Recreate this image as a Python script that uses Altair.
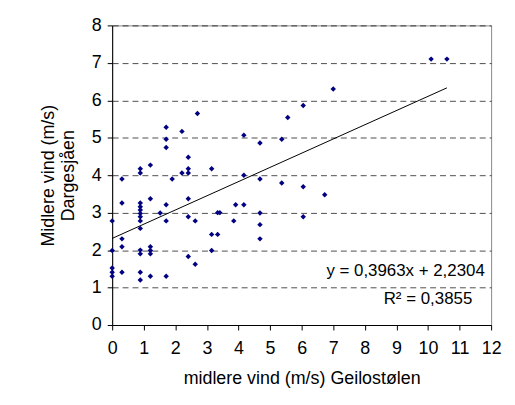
import altair as alt
import pandas as pd

xs = [0,0,0,0,0, 0.31,0.31,0.31,0.31,0.31,
      0.89,0.89,0.89,0.89,0.89,0.89,0.89,0.89,0.89,0.89,0.89,0.89,0.89,
      1.21,1.21,1.21,1.21,1.21,1.21,1.52,
      1.71,1.71,1.71,1.71,1.71,1.71,1.90,2.21,2.21,
      2.41,2.41,2.41,2.41,2.41,2.41,2.63,2.63,2.70,
      3.15,3.15,3.15,3.34,3.34,3.41,3.85,3.91,4.17,4.17,4.17,
      4.68,4.68,4.68,4.68,4.68,5.37,5.37,5.56,6.05,6.05,6.05,6.73,7.0,10.1,10.6]
ys = [2.78,1.99,1.52,1.41,1.30, 3.90,3.26,2.30,2.09,1.41,
      4.17,4.06,3.26,3.16,3.07,2.98,2.89,2.78,2.58,2.0,1.90,1.41,1.20,
      4.27,3.37,2.09,1.99,1.90,1.30,2.99,
      5.28,4.96,4.74,3.21,2.78,1.30,3.90,5.17,4.06,
      4.48,4.17,4.06,3.37,2.89,1.83,2.78,1.62,5.65,
      4.17,2.42,1.99,3.0,2.42,3.0,2.78,3.21,5.07,4.00,3.21,
      4.86,3.90,2.99,2.68,2.30,4.96,3.79,5.54,5.86,3.69,2.89,3.48,6.3,7.1,7.1]
labels = ["y = 0,3963x + 2,2304", "R² = 0,3855"]
df = pd.DataFrame({"x": xs, "y": ys})
F = "Liberation Sans"

common = dict(tickColor="black", domainColor="black", labelFontSize=18, titleFontSize=18,
              titleFontWeight="normal", labelFont=F, titleFont=F, labelColor="black",
              titleColor="black", labelOverlap=False, labelFlush=False)
xenc = alt.X("x:Q", scale=alt.Scale(domain=[0, 12]),
             axis=alt.Axis(title="midlere vind (m/s) Geilostølen", values=list(range(13)),
                           grid=False, titlePadding=12, labelPadding=10, **common))
yenc = alt.Y("y:Q", scale=alt.Scale(domain=[0, 8]),
             axis=alt.Axis(title=["Midlere vind (m/s)", "Dargesjåen"], values=list(range(9)),
                           gridDash=[6, 4], gridColor="black", gridWidth=0.7,
                           titlePadding=14, labelPadding=6, **common))
pts = alt.Chart(df).mark_point(shape="diamond", filled=True, size=30, color="#000080", opacity=1).encode(x=xenc, y=yenc)
line = alt.Chart(df).transform_regression("x", "y").mark_line(color="black", strokeWidth=1).encode(x=xenc, y=yenc)
t1 = alt.Chart(pd.DataFrame({"x": [11.8], "y": [1.45], "t": [labels[0]]})).mark_text(
    align="right", fontSize=17, font=F, color="black").encode(x=xenc, y=yenc, text="t:N")
t2 = alt.Chart(pd.DataFrame({"x": [10.0], "y": [0.7], "t": [labels[1]]})).mark_text(
    align="center", fontSize=17, font=F, color="black").encode(x=xenc, y=yenc, text="t:N")
chart = (pts + line + t1 + t2).properties(width=382, height=302, padding={"left": 31, "top": 7, "right": 5, "bottom": 5}).configure_view(stroke="#888888")
chart.save("out.html", embed_options={"renderer": "svg", "actions": False})
